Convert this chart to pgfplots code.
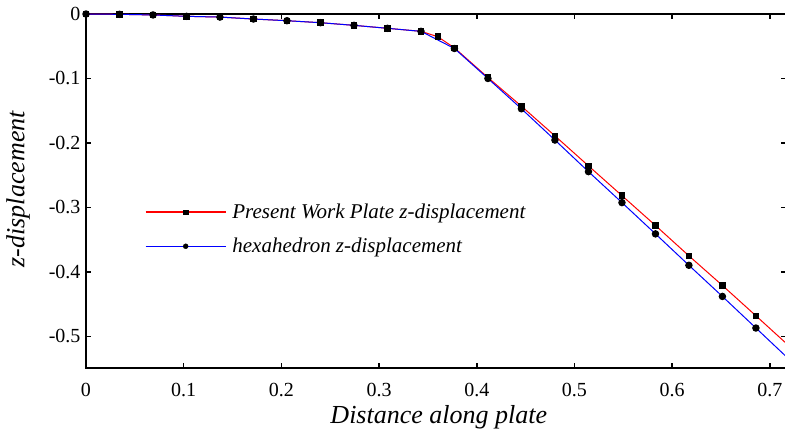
\documentclass[border=0pt]{standalone}
\usepackage{pgfplots}
\pgfplotsset{compat=1.18}
\usepackage{fontspec}
\setmainfont{Liberation Serif}
\definecolor{pred}{RGB}{255,0,0}
\definecolor{pblue}{RGB}{0,0,255}
\begin{document}
\begin{tikzpicture}
\begin{axis}[
  scale only axis, width=700pt, height=354pt,
  xmin=0, xmax=0.7165, ymin=-0.549, ymax=0,
  clip=false,
  axis line style={line width=2pt},
  tick align=inside, major tick length=5pt,
  every tick/.style={black, line width=1.6pt},
  xtick={0,0.1,0.2,0.3,0.4,0.5,0.6,0.7},
  xticklabels={0,0.1,0.2,0.3,0.4,0.5,0.6,0.7},
  ytick={-0.5,-0.4,-0.3,-0.2,-0.1,0},
  yticklabels={-0.5,-0.4,-0.3,-0.2,-0.1,0},
  ticklabel style={font=\fontsize{20pt}{24pt}\selectfont\rmfamily},
  xticklabel style={yshift=-12pt},
  yticklabel style={xshift=-2pt},
  xlabel={\textit{Distance along plate}},
  ylabel={\textit{z-displacement}},
  every axis x label/.style={at={(axis description cs:0.504,-0.14)}, anchor=center, font=\fontsize{26pt}{30pt}\selectfont},
  every axis y label/.style={at={(axis description cs:-0.097,0.506)}, anchor=center, rotate=90, font=\fontsize{26pt}{30pt}\selectfont},
  legend style={draw=none, fill=none, at={(axis description cs:0.084,0.392)}, anchor=west,
    font=\fontsize{21pt}{25pt}\selectfont\itshape, row sep=14pt, column sep=4pt, inner sep=0pt,
    nodes={inner sep=2pt}},
  legend cell align=left,
]
\addlegendimage{legend image code/.code={
    \draw[color=pred, line width=1.4pt] (0pt,0pt) -- (80pt,0pt);
    \fill[black] (37.6pt,-2.4pt) rectangle (42.4pt,2.4pt);
  }}
\addlegendentry{Present Work Plate z-displacement}
\addlegendimage{legend image code/.code={
    \draw[color=pblue, line width=1.4pt] (0pt,0pt) -- (80pt,0pt);
    \fill[black] (40pt,0pt) circle (2.5pt);
  }}
\addlegendentry{hexahedron z-displacement}
\addplot[pred, line width=1pt, mark=square*, mark size=2.7pt, mark options={black, fill=black, solid},
  mark indices={1,2,3,4,5,6,7,8,9,10,11,12,13,14,15,16,17,18,19,20,21,22}, forget plot]
coordinates {
(0,0) (0.0343,-0.0005) (0.0686,-0.0015) (0.1029,-0.0036) (0.1371,-0.0048)
(0.1714,-0.0078) (0.2057,-0.0104) (0.24,-0.0135) (0.2743,-0.0176) (0.3086,-0.0222)
(0.3429,-0.0269) (0.36,-0.0352) (0.3771,-0.0525) (0.4114,-0.0985) (0.4457,-0.143)
(0.48,-0.189) (0.5143,-0.2355) (0.5486,-0.2817) (0.5829,-0.328) (0.6171,-0.375)
(0.6514,-0.421) (0.6857,-0.468) (0.7165,-0.5105)
};
\addplot[pblue, line width=1pt, mark=*, mark size=3.2pt, mark options={black, fill=black, solid},
  mark indices={1,2,3,4,5,6,7,8,9,10,11,12,13,14,15,16,17,18,19,20,21}, forget plot]
coordinates {
(0,0) (0.0343,-0.0005) (0.0686,-0.0015) (0.1029,-0.0036) (0.1371,-0.0048)
(0.1714,-0.0078) (0.2057,-0.0104) (0.24,-0.0135) (0.2743,-0.0176) (0.3086,-0.0222)
(0.3429,-0.0269) (0.3771,-0.0535) (0.4114,-0.100) (0.4457,-0.147)
(0.48,-0.1955) (0.5143,-0.2445) (0.5486,-0.2925) (0.5829,-0.341) (0.6171,-0.3897)
(0.6514,-0.438) (0.6857,-0.487) (0.7165,-0.531)
};
\end{axis}
\pgfresetboundingbox
\useasboundingbox ([shift={(-86pt,-65pt)}]current axis.south west) rectangle ([shift={(-1pt,14pt)}]current axis.north east);
\end{tikzpicture}
\end{document}
